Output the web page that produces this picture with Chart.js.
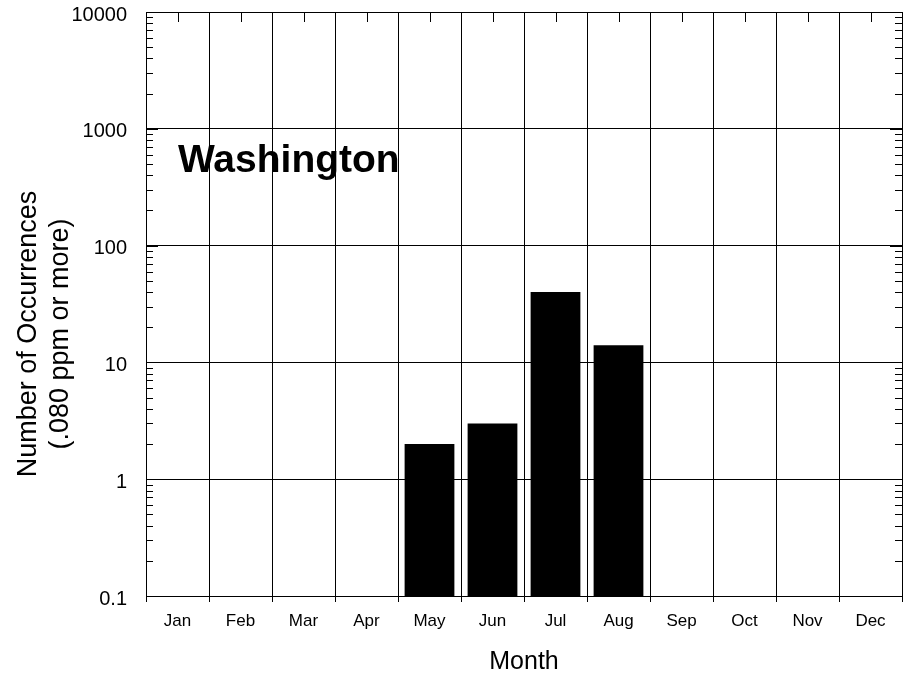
<!DOCTYPE html>
<html>
<head>
<meta charset="utf-8">
<script src="https://cdn.jsdelivr.net/npm/chart.js@4.4.1/dist/chart.umd.min.js"></script>
<style>
  html, body { margin: 0; padding: 0; background: #fff; }
  #wrap { width: 917px; height: 679px; }
</style>
</head>
<body>
<div id="wrap"><canvas id="occChart"></canvas></div>
<script>
// Monthly exceedance counts, Washington (log scale, nulls = no bar)
const months = ['Jan', 'Feb', 'Mar', 'Apr', 'May', 'Jun', 'Jul', 'Aug', 'Sep', 'Oct', 'Nov', 'Dec'];
const occurrences = [null, null, null, null, 2, 3, 40, 14, null, null, null, null];
const yTicks = [0.1, 1, 10, 100, 1000, 10000];
const yTitle = ['Number of Occurrences', '(.080 ppm or more)'];
const xTitle = 'Month';
const siteName = 'Washington';

const FONT = "'Liberation Sans', Arial, Helvetica, sans-serif";

// Inward log ticks on both sides, month ticks on top, titles, site label
const axisDecor = {
    id: 'axisDecor',
    afterDraw(chart) {
        const { ctx, chartArea: a, scales: { x, y } } = chart;
        ctx.save();
        ctx.strokeStyle = '#000';
        ctx.lineWidth = 1;
        ctx.beginPath();

        // short ticks on the top edge at month centres
        months.forEach((m, i) => {
            const px = Math.round(x.getPixelForValue(i)) + 0.5;
            ctx.moveTo(px, a.top);
            ctx.lineTo(px, a.top + 10);
        });

        // minor / major ticks on left and right edges
        const eMin = Math.round(Math.log10(y.min));
        const eMax = Math.round(Math.log10(y.max));
        for (let e = eMin; e <= eMax; e++) {
            for (let k = 1; k <= 9; k++) {
                const v = k * Math.pow(10, e);
                if (v > y.max * 1.001) break;
                const py = Math.round(y.getPixelForValue(v)) + 0.5;
                const len = k === 1 ? 12 : 7;
                ctx.moveTo(a.left, py);
                ctx.lineTo(a.left + len, py);
                ctx.moveTo(a.right, py);
                ctx.lineTo(a.right - len, py);
            }
        }
        ctx.stroke();

        ctx.fillStyle = '#000';

        // y axis title, two rotated lines (a bit below the plot centre, like the original)
        ctx.font = '27px ' + FONT;
        ctx.textAlign = 'center';
        ctx.textBaseline = 'alphabetic';
        const titleY = (a.top + a.bottom) / 2 + 30;
        [36, 68].forEach((bx, i) => {
            ctx.save();
            ctx.translate(bx, titleY);
            ctx.rotate(-Math.PI / 2);
            ctx.fillText(yTitle[i], 0, 0);
            ctx.restore();
        });

        // site name
        ctx.font = 'bold 39px ' + FONT;
        ctx.textAlign = 'left';
        ctx.fillText(siteName, a.left + 32, a.top + 160);
        ctx.restore();
    }
};

const ctx = document.getElementById('occChart');
new Chart(ctx, {
    type: 'bar',
    data: {
        labels: months,
        datasets: [{
            label: 'Occurrences',
            data: occurrences,
            backgroundColor: '#000',
            borderWidth: 0,
            barPercentage: 0.79,
            categoryPercentage: 1.0
        }]
    },
    options: {
        responsive: true,
        maintainAspectRatio: false,
        animation: false,
        layout: {
            padding: { left: 0, right: 15, top: 12, bottom: 0 }
        },
        plugins: {
            legend: { display: false },
            tooltip: { enabled: false }
        },
        scales: {
            x: {
                type: 'category',
                offset: true,
                grid: {
                    offset: true,
                    color: '#000',
                    lineWidth: 1,
                    drawTicks: true,
                    tickLength: 6
                },
                border: { display: true, color: '#000' },
                ticks: {
                    color: '#000',
                    font: { family: FONT, size: 17 },
                    padding: 9,
                    maxRotation: 0,
                    autoSkip: false
                },
                title: {
                    display: true,
                    text: xTitle,
                    color: '#000',
                    font: { family: FONT, size: 25, lineHeight: 1.2 },
                    padding: { top: 0, bottom: 2 }
                },
                afterFit(scale) {
                    scale.height = 83;
                    scale.paddingLeft = 0;
                    scale.paddingRight = 0;
                }
            },
            y: {
                type: 'logarithmic',
                min: 0.1,
                max: 10000,
                grid: {
                    color: '#000',
                    lineWidth: 1,
                    drawTicks: false
                },
                border: { display: true, color: '#000' },
                ticks: {
                    color: '#000',
                    font: { family: FONT, size: 20 },
                    padding: 19,
                    labelOffset: 3,
                    autoSkip: false,
                    callback: function(value) {
                        return String(value);
                    }
                },
                afterBuildTicks(scale) {
                    scale.ticks = yTicks.map(v => ({ value: v }));
                },
                title: { display: false },
                afterFit(scale) {
                    scale.width = 146;
                    scale.paddingTop = 0;
                    scale.paddingBottom = 0;
                }
            }
        }
    },
    plugins: [axisDecor]
});
</script>
</body>
</html>
